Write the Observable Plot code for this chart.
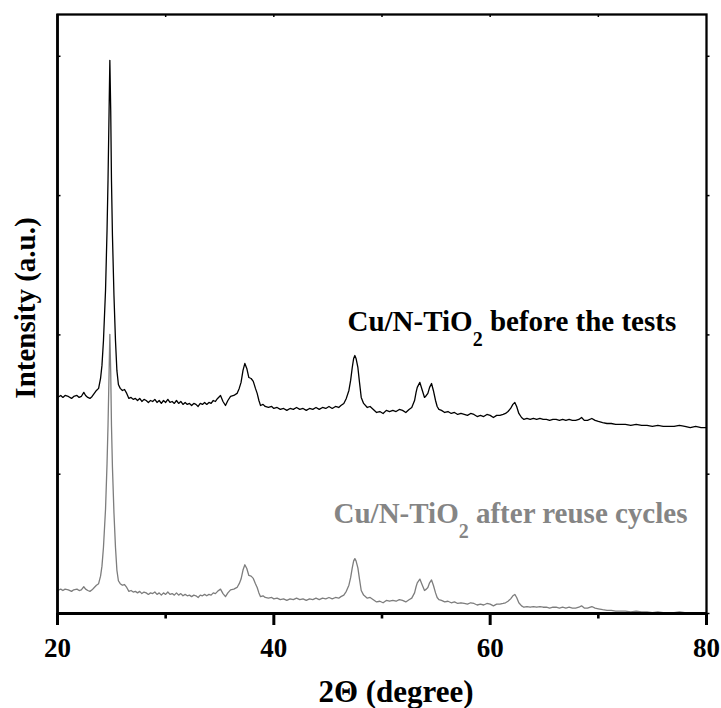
<!DOCTYPE html>
<html><head><meta charset="utf-8">
<script src="https://cdn.jsdelivr.net/npm/d3@7"></script>
<script src="https://cdn.jsdelivr.net/npm/@observablehq/plot@0.6"></script>
<style>body{margin:0;background:#fff}</style>
</head><body><div id="chart"></div>
<script>
// 2θ positions (degree)
const twoTheta = [
20.0,20.3,20.5,20.7,21.0,21.3,21.5,21.8,22.0,22.2,22.43,22.6,22.8,23.0,23.2,23.4,23.6,23.8,
23.98,24.11,24.25,24.44,24.58,24.67,24.77,24.84,24.92,24.99,25.08,25.22,25.36,25.49,25.63,25.8,
26.0,26.2,26.4,26.6,26.8,27.0,27.2,27.4,27.6,27.8,28.0,28.2,28.4,28.6,28.8,29.0,29.2,29.4,29.6,29.8,30.0,30.2,30.4,30.6,30.8,31.0,31.2,31.4,31.6,31.8,32.0,32.2,32.4,32.6,32.8,33.0,33.2,33.4,33.6,33.8,34.0,34.2,34.4,34.6,34.8,
35.07,35.3,35.53,35.75,
36.0,36.3,36.6,36.8,36.97,37.15,37.32,37.5,37.69,37.9,38.1,38.3,38.46,38.62,38.77,
39.0,39.2,
39.5,39.8,40.0,40.3,40.6,40.9,41.2,41.5,41.8,42.1,42.4,42.7,43.0,43.3,43.6,43.9,44.2,44.5,44.8,45.1,45.4,45.7,46.0,
46.2,46.47,46.7,46.94,47.1,47.25,47.38,47.49,47.6,47.77,47.92,48.08,48.3,48.64,48.9,
49.2,49.5,49.8,50.1,50.4,50.7,51.0,51.3,51.6,51.9,52.2,52.5,52.75,
53.01,53.15,53.26,53.5,53.7,53.93,54.1,54.24,54.4,54.58,54.75,54.95,55.1,55.26,
55.5,55.8,56.1,56.4,56.7,57.0,57.3,57.6,57.9,58.2,58.5,58.8,59.1,59.4,59.7,60.0,60.3,60.6,60.9,61.2,
61.42,61.65,61.89,62.1,62.28,62.45,62.65,62.9,63.12,
63.4,63.7,64.0,64.3,64.6,64.9,65.2,65.5,65.8,66.1,66.4,66.7,67.0,67.3,67.6,67.9,68.2,
68.45,68.7,69.0,69.4,69.7,70.0,
70.4,70.8,71.2,71.6,72.0,
72.5,73.0,73.5,74.0,74.5,75.0,75.5,76.0,76.5,77.0,77.5,78.0,78.5,79.0,79.5,80.0
];

// Intensity (a.u.) — Cu/N-TiO2 before the tests
const before = [
1551,1565,1551,1565,1558,1544,1558,1565,1551,1558,1587,1565,1551,1544,1558,1580,1601,1616,
1687,1781,1960,2319,2750,3109,3612,3971,3612,3109,2714,2283,1960,1745,1644,1616,
1601,1608,1580,1544,1551,1537,1544,1529,1544,1522,1537,1529,1515,1529,1522,1537,1515,1529,1508,1529,1515,1537,1515,1522,1508,1529,1508,1522,1501,1515,1501,1508,1493,1508,1501,1486,1508,1501,1515,1501,1515,1508,1529,1522,1544,
1565,1522,1493,1529,
1558,1565,1580,1616,1659,1745,1795,1759,1694,1687,1666,1616,1580,1529,1493,
1501,1486,
1479,1486,1472,1479,1465,1472,1458,1472,1465,1479,1465,1472,1458,1472,1465,1479,1465,1479,1472,1486,1472,1486,1479,
1493,1508,1544,1601,1673,1766,1831,1852,1831,1766,1659,1551,1508,1479,1486,
1465,1443,1450,1436,1458,1450,1458,1450,1465,1458,1443,1465,1479,
1529,1587,1623,1659,1608,1551,1565,1580,1623,1651,1601,1529,1486,1465,
1458,1443,1450,1436,1443,1429,1436,1429,1422,1436,1429,1414,1422,1414,1429,1422,1407,1422,1422,1429,
1436,1450,1472,1501,1515,1486,1436,1407,1393,
1400,1393,1400,1393,1400,1393,1393,1386,1393,1393,1386,1393,1386,1393,1386,1386,1393,
1407,1386,1386,1400,1386,1379,
1371,1364,1364,1357,1357,
1357,1350,1357,1350,1350,1343,1350,1343,1343,1343,1350,1343,1335,1343,1335,1335
];

// Intensity (a.u.) — Cu/N-TiO2 after reuse cycles
const after = [
165,175,165,175,170,159,170,175,165,170,192,175,165,159,170,187,203,214,
268,340,476,748,1076,1349,1731,2004,1731,1349,1049,721,476,312,235,214,
203,208,187,159,165,154,159,148,159,143,154,148,137,148,143,154,137,148,132,148,137,154,137,143,132,148,132,143,127,137,127,132,121,132,127,115,132,127,137,127,137,132,148,143,159,
175,143,121,148,
170,175,187,214,247,312,350,323,273,268,252,214,187,148,121,
127,115,
110,115,105,110,99,105,94,105,99,110,99,105,94,105,99,110,99,110,105,115,105,115,110,
121,132,159,203,257,328,378,394,378,328,247,165,132,110,115,
99,83,88,77,94,88,94,88,99,94,83,99,110,
148,192,220,247,208,165,175,187,220,241,203,148,115,99,
94,83,88,77,83,72,77,72,67,77,72,61,67,61,72,67,55,67,67,72,
77,88,105,127,137,115,77,55,45,
50,45,50,45,50,45,45,39,45,45,39,45,39,45,39,39,45,
55,39,39,50,39,34,
28,23,23,17,17,
17,12,17,12,12,7,12,7,7,7,12,7,1,7,1,1
];

const xTicks = [20, 40, 60, 80];
const xMinorTicks = [30, 50, 70];
const topTicks = [30, 40, 50, 60, 70];
const yTicks = [0, 1000, 2000, 3000, 4000];
const seriesLabels = ["Cu/N-TiO₂ before the tests", "Cu/N-TiO₂ after reuse cycles"];
const xTitle = "2Θ (degree)";
const yTitle = "Intensity (a.u.)";

const beforeRows = twoTheta.map((t, i) => ({twoTheta: t, intensity: before[i]}));
const afterRows = twoTheta.map((t, i) => ({twoTheta: t, intensity: after[i]}));

const W = 721, H = 708, mL = 57, mR = 15, mT = 14, mB = 95;
const fw = W - mL - mR, fh = H - mT - mB;

const chart = Plot.plot({
  width: W,
  height: H,
  marginLeft: mL,
  marginRight: mR,
  marginTop: mT,
  marginBottom: mB,
  style: {fontFamily: "'Liberation Serif','Times New Roman',serif", fontWeight: "bold", background: "#fff", color: "#000"},
  x: {domain: [20, 80], label: null},
  y: {domain: [0, 4300], label: null, axis: null},
  marks: [
    Plot.line(afterRows, {x: "twoTheta", y: "intensity", stroke: "#7d7d7d", strokeWidth: 1.3}),
    Plot.line(beforeRows, {x: "twoTheta", y: "intensity", stroke: "#000", strokeWidth: 1.3}),
    Plot.frame({stroke: "#000", strokeWidth: 2.3}),
    Plot.ruleX([20], {stroke: "#000", strokeWidth: 2.6}),
    Plot.ruleY([0], {stroke: "#000", strokeWidth: 2.8}),
    // bottom ticks (outward)
    Plot.ruleX(xTicks, {insetTop: fh, insetBottom: -12, stroke: "#000", strokeWidth: 3}),
    Plot.ruleX(xMinorTicks, {insetTop: fh, insetBottom: -5.5, stroke: "#000", strokeWidth: 2.6}),
    // top ticks (inward)
    Plot.ruleX(topTicks, {insetBottom: fh - 3, stroke: "#000", strokeWidth: 1.5}),
    // left ticks (inward), right ticks (outward)
    Plot.ruleY(yTicks, {insetRight: fw - 3.5, stroke: "#000", strokeWidth: 1.5}),
    Plot.ruleY(yTicks, {insetLeft: fw, insetRight: -3.5, stroke: "#000", strokeWidth: 1.5}),
    Plot.axisX(xTicks, {tickSize: 0, tickPadding: 24, fontSize: 27, label: null}),
    Plot.text([xTitle], {frameAnchor: "bottom", text: d => d, textAnchor: "middle", dx: 14, dy: 88, fontSize: 31}),
    Plot.text([yTitle], {frameAnchor: "left", text: d => d, textAnchor: "middle", rotate: -90, dx: -32, dy: -6, fontSize: 29}),
    Plot.text([seriesLabels[0]], {x: 46.81, y: 2092, text: d => d, textAnchor: "start", fontSize: 29, fill: "#000"}),
    Plot.text([seriesLabels[1]], {x: 45.52, y: 713, text: d => d, textAnchor: "start", fontSize: 29, fill: "#858585"})
  ]
});

// render the subscript 2 of TiO2
const NS = "http://www.w3.org/2000/svg";
chart.querySelectorAll("text").forEach(el => {
  const s = el.textContent;
  if (s.includes("₂")) {
    const [a, b] = s.split("₂");
    el.textContent = "";
    el.appendChild(document.createTextNode(a));
    const sub = document.createElementNS(NS, "tspan");
    sub.setAttribute("dy", "15");
    sub.setAttribute("font-size", "20");
    sub.textContent = "2";
    const rest = document.createElementNS(NS, "tspan");
    rest.setAttribute("dy", "-15");
    rest.textContent = b;
    el.appendChild(sub);
    el.appendChild(rest);
  }
});

document.getElementById("chart").appendChild(chart);
</script>
</body></html>
